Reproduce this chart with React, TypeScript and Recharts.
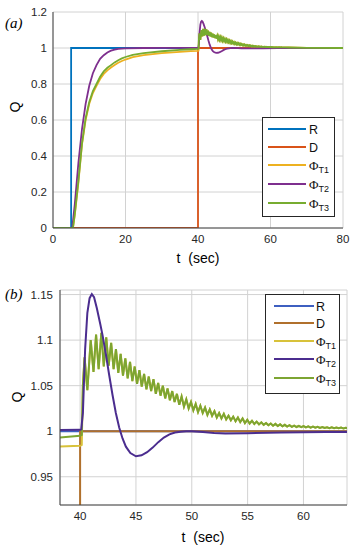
import React from 'react';
import { LineChart, Line, XAxis, YAxis, CartesianGrid, Legend } from 'recharts';

// ---- shared series data (time t in sec, value Q) ----
const rT = [0, 5, 5, 80];
const rV = [0, 0, 1, 1];

const dT = [0, 40, 40, 80];
const dV = [0, 0, 1, 1];

// Phi_T1 before the disturbance
const t1PreT = [0, 5.5, 6, 7, 8, 9, 10, 11, 12, 13, 14, 15, 16, 17, 18, 19, 20, 22, 25, 30, 35, 38, 40, 40.15];
const t1PreV = [0, 0, 0.07, 0.25, 0.465, 0.6, 0.69, 0.75, 0.79, 0.828, 0.856, 0.876, 0.892, 0.906, 0.918, 0.928, 0.936, 0.949, 0.96, 0.971, 0.979, 0.983, 0.984, 0.985];

// Phi_T3 before the disturbance
const t3PreT = [0, 5.5, 6, 7, 8, 9, 10, 11, 12, 13, 14, 15, 16, 17, 18, 19, 20, 22, 25, 30, 35, 38, 40, 40.15];
const t3PreV = [0, 0, 0.075, 0.26, 0.47, 0.61, 0.7, 0.76, 0.8, 0.84, 0.87, 0.89, 0.905, 0.92, 0.932, 0.942, 0.95, 0.962, 0.972, 0.982, 0.99, 0.993, 0.995, 0.996];

// Oscillating response of Phi_T1 / Phi_T3 after the disturbance
const oscT = [
  40.25, 40.4, 40.65, 40.95, 41.2, 41.43, 41.66, 41.9, 42.12, 42.34, 42.56, 42.78, 43.0, 43.21, 43.42, 43.63, 43.84,
  44.05, 44.26, 44.47, 44.68, 44.89, 45.1, 45.31, 45.52, 45.73, 45.94, 46.15, 46.36, 46.57, 46.78, 46.99, 47.2, 47.41,
  47.62, 47.83, 48.04, 48.25, 48.46, 48.67, 48.88, 49.09, 49.3, 49.51, 49.72, 49.93, 50.14, 50.35, 50.56, 50.77, 50.98,
  51.19, 51.4, 51.61, 51.82, 52.03, 52.24, 52.45, 52.66, 52.87, 53.08, 53.29, 53.5, 53.71, 53.92, 54.13, 54.34, 54.55,
  54.76, 54.97, 55.18, 55.39, 55.6, 55.81, 56.02, 56.23, 56.44, 56.65, 56.86, 57.07, 57.28, 57.49, 57.7, 57.91, 58.12,
  58.33, 58.54, 58.75, 58.96, 59.17, 59.38, 59.59, 59.8, 60.01, 60.22, 60.43, 60.64, 60.85, 61.06, 61.27, 61.48, 61.69,
  61.9, 62.11, 62.32, 62.53, 62.74, 62.95, 63.16, 63.37, 63.58, 63.79, 64.0, 65, 70, 80,
];
const oscV = [
  1.05, 1.081, 1.045, 1.1, 1.065, 1.106, 1.068, 1.108, 1.071, 1.103, 1.072, 1.097, 1.068, 1.09, 1.064, 1.085, 1.061,
  1.08, 1.058, 1.076, 1.055, 1.071, 1.052, 1.067, 1.049, 1.063, 1.046, 1.06, 1.044, 1.057, 1.041, 1.053, 1.039, 1.05,
  1.036, 1.047, 1.034, 1.044, 1.032, 1.041, 1.029, 1.038, 1.027, 1.035, 1.025, 1.032, 1.023, 1.03, 1.021, 1.028, 1.02,
  1.026, 1.018, 1.024, 1.017, 1.022, 1.015, 1.02, 1.014, 1.019, 1.013, 1.017, 1.012, 1.016, 1.011, 1.015, 1.01, 1.014,
  1.009, 1.0125, 1.0085, 1.0115, 1.008, 1.0105, 1.0075, 1.0098, 1.007, 1.009, 1.0065, 1.0085, 1.006, 1.008, 1.0057, 1.0075, 1.0054,
  1.007, 1.0051, 1.0066, 1.0048, 1.0062, 1.0046, 1.0059, 1.0044, 1.0056, 1.0042, 1.0053, 1.004, 1.005, 1.0038, 1.0048, 1.0036, 1.0046,
  1.0035, 1.0044, 1.0034, 1.0042, 1.0033, 1.004, 1.0032, 1.0039, 1.0031, 1.0038, 1.003, 1.0027, 1.001, 1.0,
];

// Phi_T2
const t2T = [
  0, 5.3, 6, 7, 8, 9, 10, 11, 12, 13, 14, 15, 16, 17, 18, 20, 25, 30, 40, 40.1, 40.25, 40.45, 40.65, 40.85, 41.05, 41.25,
  41.5, 41.8, 42.0, 42.3, 42.6, 42.9, 43.2, 43.5, 43.8, 44.1, 44.5, 45.0, 45.5, 46, 46.5, 47, 47.5, 48, 48.5, 49, 49.5,
  50, 51, 52, 53, 55, 58, 62, 64, 70, 80,
];
const t2V = [
  0, 0, 0.13, 0.36, 0.55, 0.69, 0.79, 0.86, 0.905, 0.94, 0.96, 0.975, 0.985, 0.991, 0.995, 0.998, 1.0, 1.001, 1.0015, 1.002,
  1.02, 1.09, 1.13, 1.146, 1.1505, 1.147, 1.135, 1.118, 1.106, 1.085, 1.062, 1.04, 1.02, 1.004, 0.992, 0.983, 0.976, 0.9725,
  0.9735, 0.977, 0.982, 0.988, 0.993, 0.9965, 0.9985, 0.9995, 1.0, 1.0, 0.999, 0.998, 0.9975, 0.9978, 0.9985, 0.999, 0.9992, 1.0, 1.0,
];

const seriesNames = ['R', 'D', 'ΦT1', 'ΦT2', 'ΦT3'];
const colorsA = ['#0072BD', '#D95319', '#EDB120', '#7E2F8E', '#77AC30'];
const colorsB = ['#3E5FC0', '#B0702C', '#D8C23A', '#4B2D8F', '#7DA532'];

const ticksXA = [0, 20, 40, 60, 80];
const ticksYA = [0, 0.2, 0.4, 0.6, 0.8, 1, 1.2];
const ticksXB = [40, 45, 50, 55, 60];
const ticksYB = [0.95, 1, 1.05, 1.1, 1.15];

const zip = (ts: number[], vs: number[]) => ts.map((t, i) => ({ t, v: vs[i] }));

const seriesData = [
  zip(rT, rV),
  zip(dT, dV),
  zip(t1PreT.concat(oscT), t1PreV.concat(oscV)),
  zip(t2T, t2V),
  zip(t3PreT.concat(oscT), t3PreV.concat(oscV)),
];

const SANS = '"Liberation Sans", Arial, Helvetica, sans-serif';
const SERIF = '"Liberation Serif", "DejaVu Serif", Times, serif';

function SeriesName({ name }: { name: string }) {
  if (name.startsWith('Φ')) {
    return (
      <span style={{ whiteSpace: 'nowrap' }}>
        <span style={{ fontFamily: SERIF, fontSize: 13 }}>Φ</span>
        <span style={{ fontFamily: SANS, fontSize: 9, position: 'relative', top: 3 }}>{name.slice(1)}</span>
      </span>
    );
  }
  return <span style={{ fontFamily: SANS, fontSize: 12.5 }}>{name}</span>;
}

function LegendBox({ colors, w, h, rows, x1, x2, tx }: { colors: string[]; w: number; h: number; rows: number[]; x1: number; x2: number; tx: number }) {
  return (
    <div style={{ position: 'relative', width: w, height: h, boxSizing: 'border-box', border: '1px solid #262626', background: '#fff' }}>
      {seriesNames.map((n, i) => (
        <div key={n} style={{ position: 'absolute', left: 0, top: rows[i] - 8, height: 16, width: w }}>
          <div style={{ position: 'absolute', left: x1, width: x2 - x1, top: 7, height: 2, background: colors[i] }} />
          <div style={{ position: 'absolute', left: tx, top: 0, lineHeight: '16px', color: '#111' }}>
            <SeriesName name={n} />
          </div>
        </div>
      ))}
    </div>
  );
}

type PanelProps = {
  width: number;
  height: number;
  margin: { top: number; right: number; bottom: number; left: number };
  xDomain: [number, number];
  yDomain: [number, number];
  xTicks: number[];
  yTicks: number[];
  colors: string[];
  strokeW: number;
  legend: { left: number; top: number; w: number; h: number; rows: number[]; x1: number; x2: number; tx: number };
  order: number[];
  yMargin: number;
};

function Panel(p: PanelProps) {
  const tickStyle = { fontSize: 11.5, fill: '#262626', fontFamily: SANS };
  return (
    <LineChart width={p.width} height={p.height} margin={p.margin}>
      <CartesianGrid stroke="#d2d2d2" strokeWidth={1} />
      <XAxis
        type="number"
        dataKey="t"
        domain={p.xDomain}
        ticks={p.xTicks}
        allowDataOverflow
        height={30}
        tick={tickStyle}
        tickLine={false}
        tickSize={4}
        tickMargin={3}
        axisLine={{ stroke: '#444', strokeWidth: 1 }}
      />
      <YAxis
        type="number"
        domain={p.yDomain}
        ticks={p.yTicks}
        allowDataOverflow
        width={30}
        tick={tickStyle}
        tickLine={false}
        tickSize={4}
        tickMargin={p.yMargin}
        axisLine={{ stroke: '#444', strokeWidth: 1 }}
      />
      <XAxis xAxisId="top" orientation="top" type="number" dataKey="t" domain={p.xDomain} allowDataOverflow height={0} tick={false} tickLine={false} axisLine={{ stroke: '#444', strokeWidth: 1 }} />
      <YAxis yAxisId="right" orientation="right" type="number" domain={p.yDomain} allowDataOverflow width={0} tick={false} tickLine={false} axisLine={{ stroke: '#444', strokeWidth: 1 }} />
      {p.order.map((i) => (
        <Line
          key={seriesNames[i]}
          name={seriesNames[i]}
          data={seriesData[i]}
          dataKey="v"
          type="linear"
          stroke={p.colors[i]}
          strokeWidth={p.strokeW}
          dot={false}
          activeDot={false}
          isAnimationActive={false}
        />
      ))}
      <Legend
        layout="vertical"
        align="center"
        verticalAlign="middle"
        wrapperStyle={{ left: p.legend.left, top: p.legend.top, width: p.legend.w, height: p.legend.h }}
        content={() => (
          <LegendBox colors={p.colors} w={p.legend.w} h={p.legend.h} rows={p.legend.rows} x1={p.legend.x1} x2={p.legend.x2} tx={p.legend.tx} />
        )}
      />
    </LineChart>
  );
}

const abs = (left: number, top: number): React.CSSProperties => ({ position: 'absolute', left, top });

export default function App() {
  return (
    <div style={{ position: 'absolute', left: 0, top: 0, width: 357, height: 550, background: '#fff', overflow: 'hidden' }}>
      <div style={abs(0, 0)}>
        <Panel
          width={357}
          height={270}
          margin={{ top: 12, right: 14, bottom: 12, left: 23 }}
          xDomain={[0, 80]}
          yDomain={[0, 1.2]}
          xTicks={ticksXA}
          yTicks={ticksYA}
          colors={colorsA}
          strokeW={1.8}
          order={[0, 1, 2, 3, 4]}
          yMargin={2}
          legend={{ left: 262, top: 117, w: 73, h: 100, rows: [11, 29, 47, 66, 85], x1: 5, x2: 43, tx: 46 }}
        />
      </div>
      <div style={abs(0, 270)}>
        <Panel
          width={357}
          height={280}
          margin={{ top: 20, right: 10, bottom: 15, left: 30 }}
          xDomain={[38.2, 63.9]}
          yDomain={[0.919, 1.155]}
          xTicks={ticksXB}
          yTicks={ticksYB}
          colors={colorsB}
          strokeW={2}
          order={[0, 1, 2, 4, 3]}
          yMargin={3}
          legend={{ left: 265, top: 24, w: 75, h: 100, rows: [11, 28, 46, 64, 83], x1: 8, x2: 48, tx: 50 }}
        />
      </div>
      {/* panel labels and axis titles */}
      <div style={{ ...abs(5, 14), fontFamily: SERIF, fontStyle: 'italic', fontSize: 15, lineHeight: '18px' }}>(a)</div>
      <div style={{ ...abs(5, 285), fontFamily: SERIF, fontStyle: 'italic', fontSize: 15, lineHeight: '18px' }}>(b)</div>
      <div style={{ ...abs(148, 250), width: 100, textAlign: 'center', fontFamily: SANS, fontSize: 14, lineHeight: '16px', whiteSpace: 'pre' }}>t  (sec)</div>
      <div style={{ ...abs(153, 529), width: 100, textAlign: 'center', fontFamily: SANS, fontSize: 14, lineHeight: '16px', whiteSpace: 'pre' }}>t  (sec)</div>
      <div style={{ ...abs(5, 99), width: 20, height: 16, textAlign: 'center', fontFamily: SANS, fontSize: 14, lineHeight: '16px', transform: 'rotate(-90deg)' }}>Q</div>
      <div style={{ ...abs(7, 389), width: 20, height: 16, textAlign: 'center', fontFamily: SANS, fontSize: 14, lineHeight: '16px', transform: 'rotate(-90deg)' }}>Q</div>
    </div>
  );
}
